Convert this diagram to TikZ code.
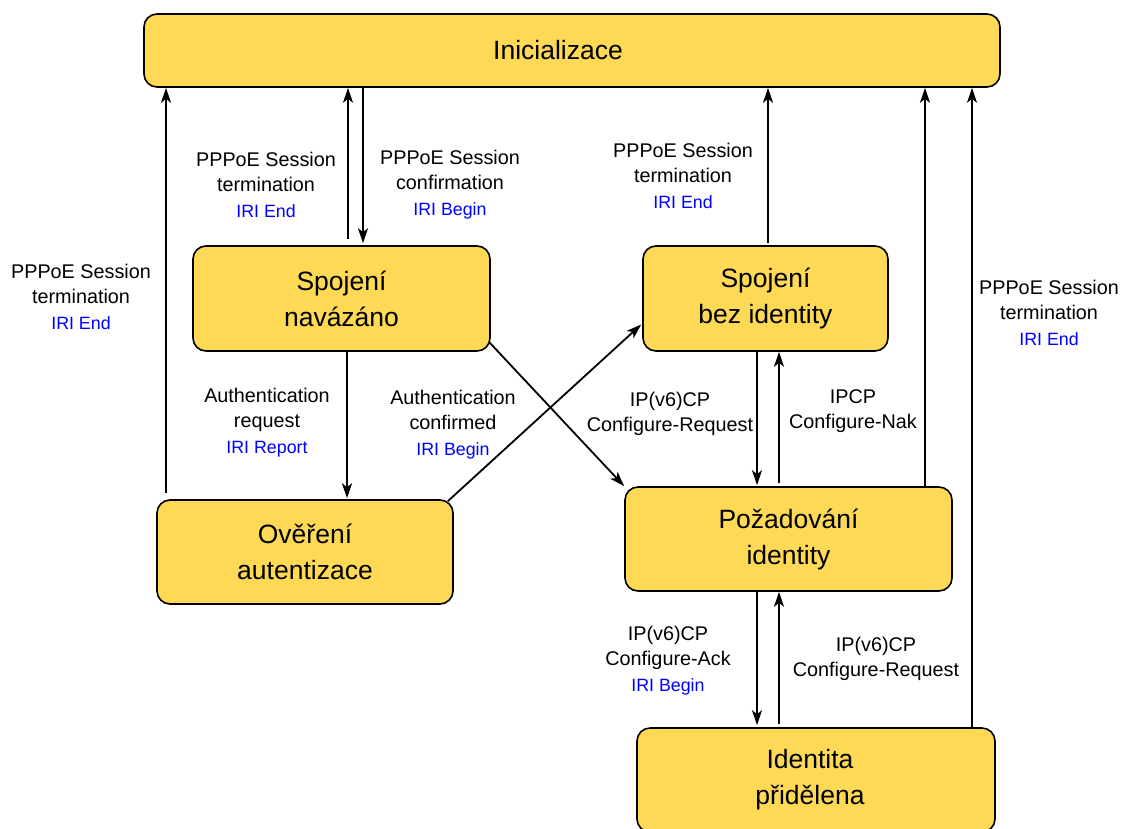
\documentclass[tikz,border=0pt]{standalone}
\usepackage{fontspec}
\setmainfont{Liberation Sans}
\usetikzlibrary{arrows.meta,calc}
\definecolor{boxfill}{RGB}{253,217,86}
\definecolor{iri}{RGB}{0,0,255}
\begin{document}
\begin{tikzpicture}[x=1pt,y=-1pt,
  box/.style={draw=black,line width=1.6pt,fill=boxfill,rounded corners=13pt,align=center,
    font=\fontsize{26.5}{36}\selectfont,inner sep=0pt},
  lab/.style={align=center,font=\fontsize{19.8}{25}\selectfont,inner sep=0pt},
  arr/.style={line width=1.8pt,-{Stealth[length=15pt,width=10pt,inset=4pt]}}]
\newcommand{\iri}[1]{\\[1pt]{\fontsize{17.8}{20}\selectfont\color{iri}#1}}
\useasboundingbox (0,0) rectangle (1123,828);

% boxes
\node[box,minimum width=856pt,minimum height=73pt] (init) at (572,50.5) {Inicializace\hspace*{28pt}};
\node[box,minimum width=297pt,minimum height=105pt] (sn) at (341.5,298.5) {Spojení\\navázáno};
\node[box,minimum width=245pt,minimum height=105pt] (sb) at (765.5,298.5) {Spojení\\bez identity};
\node[box,minimum width=296pt,minimum height=104pt] (ov) at (305,552) {Ověření\\autentizace};
\node[box,minimum width=327pt,minimum height=104pt] (pz) at (788.5,539) {Požadování\\identity};
\node[box,minimum width=358pt,minimum height=104pt] (id) at (816,780) {Identita\hspace*{12pt}\\přidělena\hspace*{12pt}};

% connectors
\draw[arr,shorten <=6pt] (ov.north -| 166,0) -- (init.south -| 166,0);
\draw[arr,shorten <=6pt] (sn.north -| 348,0) -- (init.south -| 348,0);
\draw[arr,shorten >=2pt] (init.south -| 363,0) -- (sn.north -| 363,0);
\draw[arr,shorten >=1pt] (sn.south -| 347,0) -- (ov.north -| 347,0);
\draw[arr] ($(ov.north east)+(-6,2)$) -- ($(sb.west)+(-1,26)$);
\draw[arr] ($(sn.south east)+(-1,-9)$) -- (pz.north west);
\draw[arr,shorten <=2pt] (sb.north -| 768,0) -- (init.south -| 768,0);
\draw[arr,shorten >=1pt] (sb.south -| 757,0) -- (pz.north -| 757,0);
\draw[arr,shorten <=3pt] (pz.north -| 779,0) -- (sb.south -| 779,0);
\draw[arr] (pz.north -| 925,0) -- (init.south -| 925,0);
\draw[arr] (id.north -| 972,0) -- (init.south -| 972,0);
\draw[arr,shorten >=2pt] (pz.south -| 757,0) -- (id.north -| 757,0);
\draw[arr,shorten <=3pt] (id.north -| 779,0) -- (pz.south -| 779,0);

% labels
\node[lab] (l1) at (81,297) {PPPoE Session\\termination\iri{IRI End}};
\node[lab] (l2) at (266,185) {PPPoE Session\\termination\iri{IRI End}};
\node[lab] (l3) at (450,185) {PPPoE Session\\confirmation\iri{IRI Begin}};
\node[lab] (l4) at (267,423) {Authentication\\request\iri{IRI Report}};
\node[lab] (l5) at (453,425) {Authentication\\confirmed\iri{IRI Begin}};
\node[lab] (l6) at (683,176) {PPPoE Session\\termination\iri{IRI End}};
\node[lab] (l7) at (670,414) {IP(v6)CP\\Configure-Request};
\node[lab] (l8) at (853,411) {IPCP\\Configure-Nak};
\node[lab] (l9) at (1049,313) {PPPoE Session\\termination\iri{IRI End}};
\node[lab] (l10) at (668,661) {IP(v6)CP\\Configure-Ack\iri{IRI Begin}};
\node[lab] (l11) at (876,659) {IP(v6)CP\\Configure-Request};
\end{tikzpicture}
\end{document}
